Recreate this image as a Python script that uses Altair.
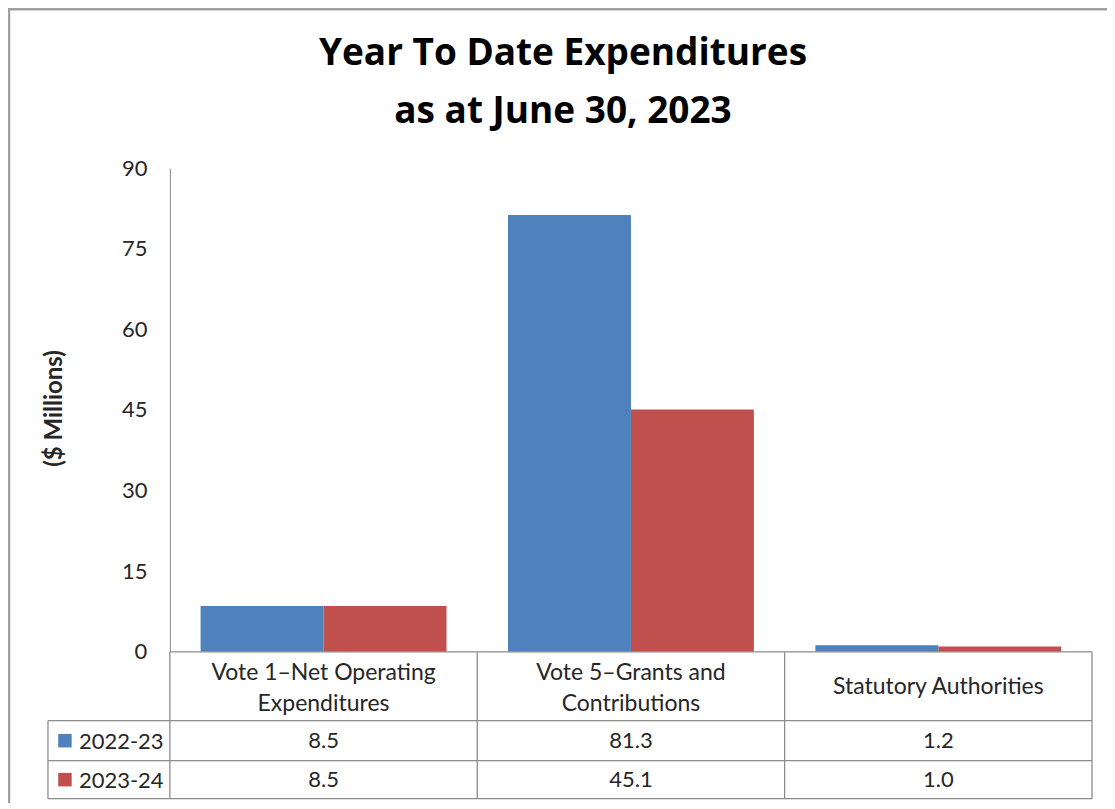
import altair as alt
import pandas as pd

# ---- data ----
categories = ["Vote 1–Net Operating\nExpenditures", "Vote 5–Grants and\nContributions", "Statutory Authorities"]
series = ["2022-23", "2023-24"]
values_2022_23 = [8.5, 81.3, 1.2]
values_2023_24 = [8.5, 45.1, 1.0]
colors = ["#4F81BD", "#C0504D"]
y_ticks = [0, 15, 30, 45, 60, 75, 90]

rows = []
for s, vals in zip(series, [values_2022_23, values_2023_24]):
    for c, v in zip(categories, vals):
        rows.append({"category": c, "series": s, "value": v, "label": f"{v:.1f}"})
df = pd.DataFrame(rows)
cat_df = pd.DataFrame({"category": categories})
ser_df = pd.DataFrame({"series": series})
one = pd.DataFrame({"a": [0]})

W, H = 923, 484
FONT = "Lato"
TXT = "#262626"
LINE = "#8c8c8c"
ROW_Y = {series[0]: 573, series[1]: 612}   # table row centres (px below plot top)
HDR = 521                                  # category header centre
T0, T1, T2, T3 = 484, 553, 593, 631        # table horizontal lines
LEG_L = -122                               # left edge of legend column

x_scale = alt.Scale(domain=categories, paddingInner=0, paddingOuter=0)
xenc = alt.X("category:N", sort=categories, scale=x_scale, axis=None)
color_scale = alt.Scale(domain=series, range=colors)

bars = alt.Chart(df).mark_bar().encode(
    x=xenc,
    xOffset=alt.XOffset("series:N", sort=series,
                        scale=alt.Scale(domain=series, paddingInner=0, paddingOuter=0.25)),
    y=alt.Y("value:Q", scale=alt.Scale(domain=[0, 90], nice=False, zero=True),
            axis=alt.Axis(values=y_ticks, ticks=False, tickSize=0, labelPadding=23,
                          labelFontSize=22, labelFont=FONT, labelColor=TXT,
                          domainColor="#868686", domainWidth=1, grid=False,
                          title="($ Millions)", titleFont=FONT, titleFontSize=24,
                          titleFontWeight="bold", titleColor=TXT,
                          titleX=-115, titleY=H / 2 - 2, titleBaseline="middle")),
    color=alt.Color("series:N", scale=color_scale, legend=None),
)

has_break = "indexof(datum.category, '\\n') >= 0"
cat_text2 = alt.Chart(cat_df).transform_filter(has_break).mark_text(
    lineBreak="\n", lineHeight=31, fontSize=23, font=FONT, color=TXT, baseline="middle", dy=-15.5
).encode(x=xenc, y=alt.value(HDR), text="category:N")
cat_text1 = alt.Chart(cat_df).transform_filter("!(" + has_break + ")").mark_text(
    fontSize=23, font=FONT, color=TXT, baseline="middle"
).encode(x=xenc, y=alt.value(HDR - 2), text="category:N")

def row_text(s):
    return alt.Chart(df).transform_filter(alt.datum.series == s).mark_text(
        fontSize=22, font=FONT, color=TXT, baseline="middle"
    ).encode(x=xenc, y=alt.value(ROW_Y[s]), text="label:N")

def legend_row(s):
    base = alt.Chart(ser_df).transform_filter(alt.datum.series == s)
    sq = base.mark_square(size=182, opacity=1).encode(
        x=alt.value(LEG_L + 17), y=alt.value(ROW_Y[s]),
        color=alt.Color("series:N", scale=color_scale, legend=None))
    tx = base.mark_text(align="left", baseline="middle", fontSize=22, font=FONT, color=TXT).encode(
        x=alt.value(LEG_L + 31), y=alt.value(ROW_Y[s] + 1), text="series:N")
    return [sq, tx]

def hrule(yv, x0):
    return alt.Chart(one).mark_rule(color=LINE, strokeWidth=1.3).encode(
        x=alt.value(x0), x2=alt.value(W), y=alt.value(yv))

vr_cats = alt.Chart(cat_df).mark_rule(color=LINE, strokeWidth=1.3).encode(
    x=alt.X("category:N", sort=categories, scale=x_scale, axis=None, bandPosition=0),
    y=alt.value(T0), y2=alt.value(T3))
vr_right = alt.Chart(one).mark_rule(color=LINE, strokeWidth=1.3).encode(
    x=alt.value(W), y=alt.value(T0), y2=alt.value(T3))
vr_left = alt.Chart(one).mark_rule(color=LINE, strokeWidth=1.3).encode(
    x=alt.value(LEG_L), y=alt.value(T1), y2=alt.value(T3))

border = alt.Chart(one).mark_rect(fillOpacity=0, stroke="#a0a0a0", strokeWidth=2.5).encode(
    x=alt.value(-161), x2=alt.value(1300), y=alt.value(-159), y2=alt.value(1000))

chart = alt.layer(
    border, bars, hrule(T0, 0), hrule(T1, LEG_L), hrule(T2, LEG_L), hrule(T3, LEG_L),
    vr_cats, vr_right, vr_left, cat_text2, cat_text1,
    row_text(series[0]), row_text(series[1]),
    *legend_row(series[0]), *legend_row(series[1]),
).properties(
    width=W, height=H,
    autosize=alt.AutoSizeParams(type="none"),
    padding={"left": 162, "top": 160, "right": 15, "bottom": 151},
    title=alt.TitleParams(["Year To Date Expenditures", "as at June 30, 2023"],
                          font="Open Sans", fontSize=37, fontWeight="bold", color="black",
                          anchor="middle", frame="group", dx=-68, offset=-123, lineHeight=58),
).configure_view(strokeWidth=0)

chart.save("out.html", embed_options={"renderer": "svg", "actions": False})
